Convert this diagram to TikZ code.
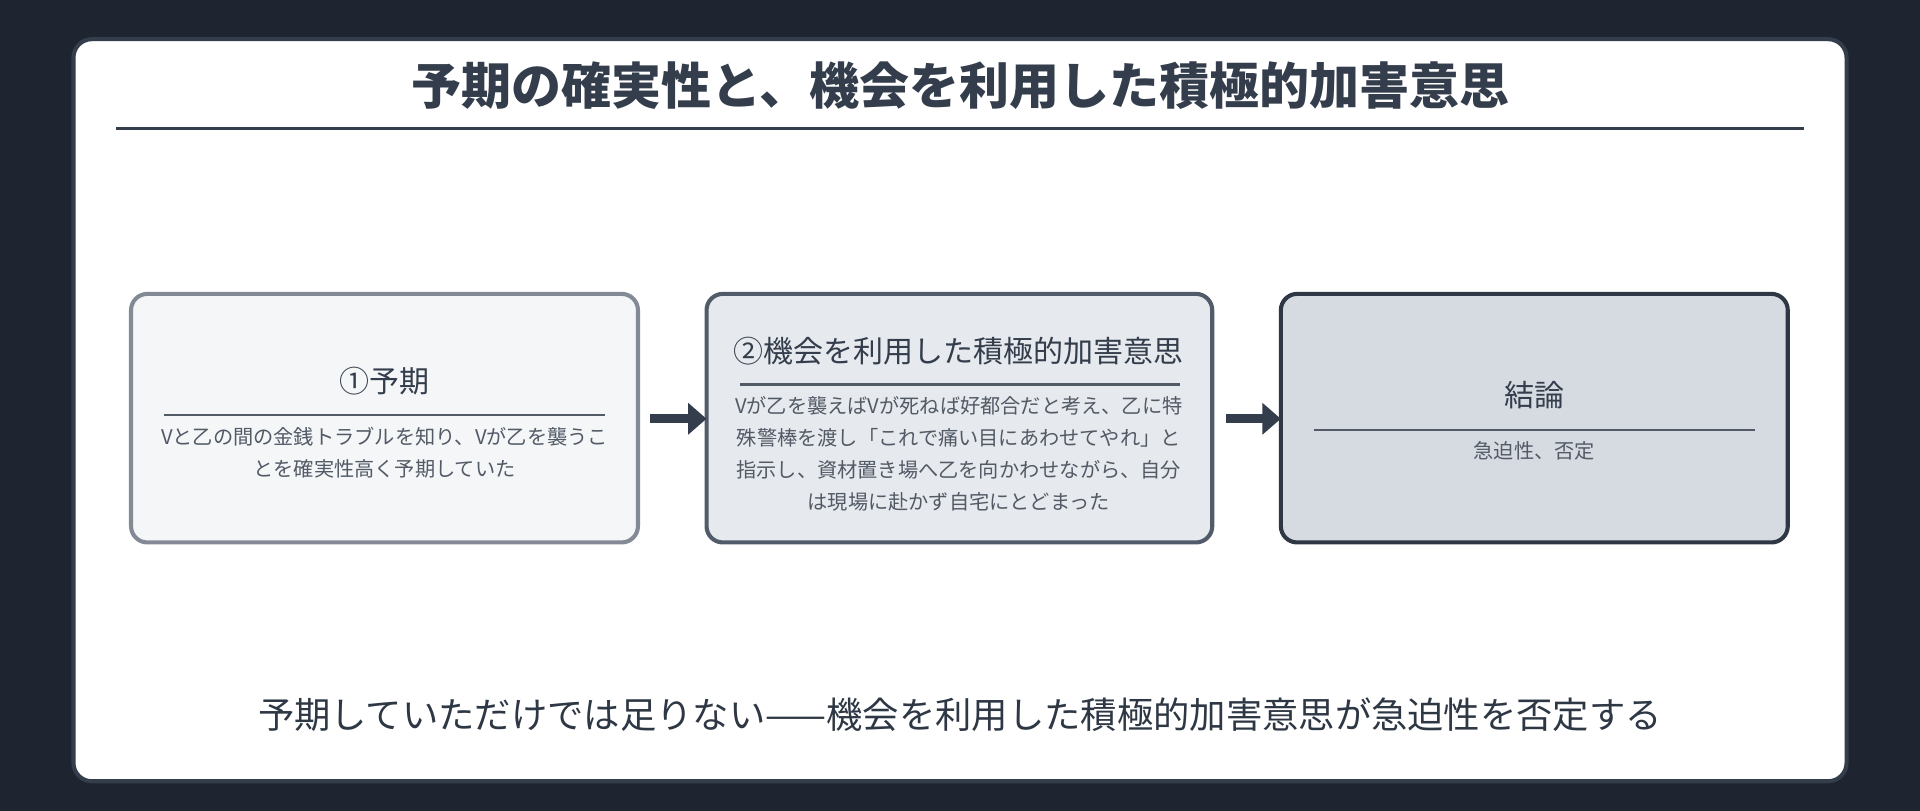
\documentclass[tikz,border=0pt]{standalone}
\usepackage{fontspec}
\setmainfont{Noto Sans CJK JP}
\usetikzlibrary{arrows.meta}
\definecolor{bg}{HTML}{1E2530}
\definecolor{ink}{HTML}{333D4B}
\definecolor{fa}{HTML}{F4F6F8}\definecolor{ba}{HTML}{838A96}
\definecolor{fb}{HTML}{E6E9ED}\definecolor{bb}{HTML}{525B69}
\definecolor{fc}{HTML}{D6DAE1}\definecolor{bc}{HTML}{2F3744}
\begin{document}
\begin{tikzpicture}[x=0.6pt,y=-0.6pt,
 box/.style={rounded corners=8pt,line width=2pt},
 ttl/.style={text=ink,font=\fontsize{14.7}{17}\selectfont},
 body/.style={text=ink!85,align=center,font=\fontsize{9.9}{15.6}\selectfont},
 sep/.style={draw=ink!85,line width=1pt},
 arr/.style={-{Triangle[length=9pt,width=15pt]},line width=4.5pt,draw=ink}]
\fill[bg] (0,0) rectangle (1568,662);
\useasboundingbox (0,0) rectangle (1568,662);
\filldraw[white,draw=ink,line width=2pt,rounded corners=9pt] (60,32) rectangle (1508,638);
\node[text=ink,font=\fontsize{24.5}{27}\selectfont\bfseries] (title) at (784,70) {予期の確実性と、機会を利用した積極的加害意思};
\draw[ink,line width=1.2pt] (95,105) -- (1473,105);
\filldraw[box,fill=fa,draw=ba] (107,240) rectangle (521,443);
\filldraw[box,fill=fb,draw=bb] (577,240) rectangle (990,443);
\filldraw[box,fill=fc,draw=bc] (1046,240) rectangle (1460,443);
\node[ttl] (t1) at (314,311) {①予期};
\draw[sep] (134,339) -- (494,339);
\node[body,anchor=north] (x1) at (314,343) {Vと乙の間の金銭トラブルを知り、Vが乙を襲うこ\\とを確実性高く予期していた};
\node[ttl] (t2) at (783,287) {②機会を利用した積極的加害意思};
\draw[sep] (604,314) -- (964,314);
\node[body,anchor=north] (x2) at (783,318) {Vが乙を襲えばVが死ねば好都合だと考え、乙に特\\殊警棒を渡し「これで痛い目にあわせてやれ」と\\指示し、資材置き場へ乙を向かわせながら、自分\\は現場に赴かず自宅にとどまった};
\node[ttl] (t3) at (1253,323) {結論};
\draw[sep] (1073,351) -- (1433,351);
\node[body,anchor=north] (x3) at (1253,355) {急迫性、否定};
\coordinate (a1s) at (531,342);\coordinate (a1e) at (577,342);
\coordinate (a2s) at (1001,342);\coordinate (a2e) at (1046,342);
\draw[arr] (a1s) -- (a1e);
\draw[arr] (a2s) -- (a2e);
\node[text=ink!90!black,font=\fontsize{17.8}{20}\selectfont] (foot) at (784,584) {予期していただけでは足りない——機会を利用した積極的加害意思が急迫性を否定する};
\end{tikzpicture}
\end{document}
